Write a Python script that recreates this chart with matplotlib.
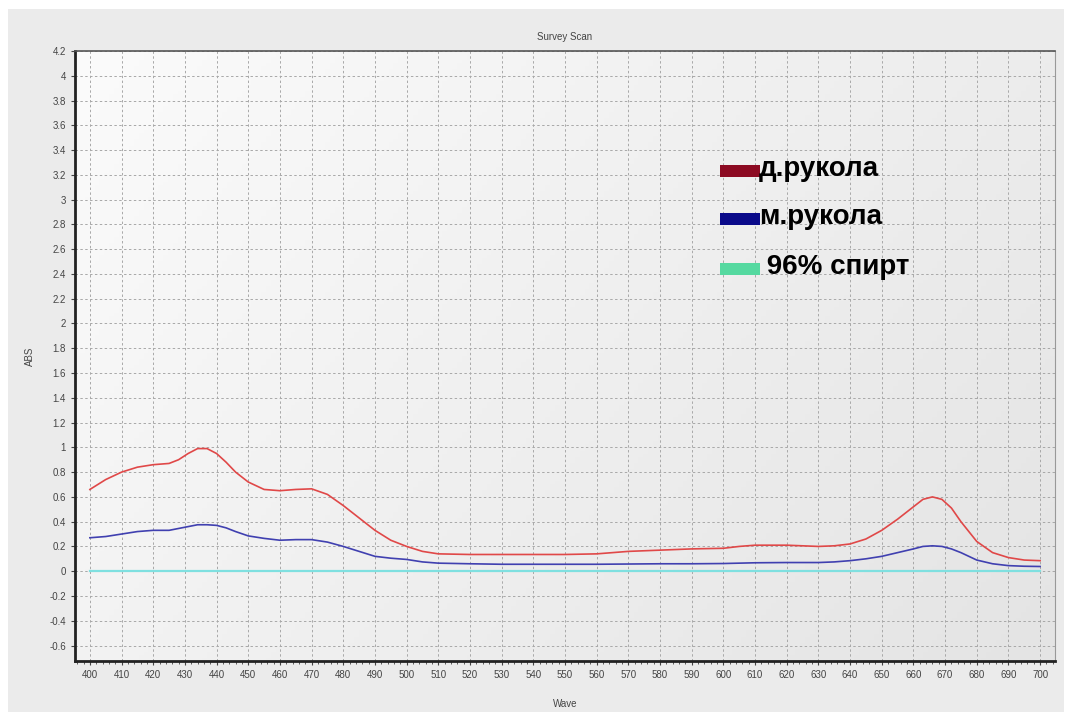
import matplotlib.pyplot as plt
import numpy as np
from matplotlib.patches import Rectangle
from matplotlib.colors import LinearSegmentedColormap
from matplotlib.ticker import MultipleLocator

# wavelengths (nm) and absorbance
wave = [400, 405, 410, 415, 420, 425, 428, 431, 434, 437, 440, 443, 446, 450, 455, 460, 465, 470,
        475, 480, 485, 490, 495, 500, 505, 510, 520, 530, 540, 550, 560, 570, 580,
        590, 600, 605, 610, 620, 630, 635, 640, 645, 650, 655, 660, 663, 666, 669, 672,
        675, 680, 685, 690, 695, 700]

d_rukola = [0.66, 0.74, 0.80, 0.84, 0.86, 0.87, 0.90, 0.95, 0.99, 0.99, 0.95, 0.88, 0.80, 0.72, 0.66, 0.65, 0.66, 0.665,
            0.62, 0.53, 0.43, 0.33, 0.25, 0.20, 0.16, 0.14, 0.135, 0.135, 0.135, 0.135, 0.14, 0.16, 0.17,
            0.18, 0.185, 0.20, 0.21, 0.21, 0.20, 0.205, 0.22, 0.26, 0.33, 0.42, 0.52, 0.58, 0.60, 0.58, 0.51,
            0.40, 0.24, 0.15, 0.11, 0.09, 0.085]

m_rukola = [0.27, 0.28, 0.30, 0.32, 0.33, 0.33, 0.345, 0.36, 0.375, 0.375, 0.37, 0.35, 0.32, 0.285, 0.265, 0.25, 0.255, 0.255,
            0.235, 0.20, 0.16, 0.12, 0.105, 0.095, 0.075, 0.065, 0.06, 0.056, 0.056, 0.056, 0.056, 0.058, 0.06,
            0.06, 0.062, 0.065, 0.068, 0.07, 0.07, 0.075, 0.085, 0.10, 0.12, 0.15, 0.18, 0.20, 0.205, 0.20, 0.18,
            0.15, 0.09, 0.06, 0.045, 0.04, 0.038]

spirt = [0.0] * len(wave)

legend_names = ['д.рукола', 'м.рукола', ' 96% спирт']
legend_colors = ['#8c0a22', '#0a0a8a', '#55d9a0']

plt.rcParams['font.family'] = ['Liberation Sans', 'DejaVu Sans']

fig = plt.figure(figsize=(10.72, 7.15), dpi=100)
fig.patch.set_facecolor('white')
fig.patches.append(Rectangle((8 / 1072, 3 / 715), 1056 / 1072, 703 / 715,
                             transform=fig.transFigure, facecolor='#ebebeb',
                             edgecolor='none', zorder=-5))

ax = fig.add_axes([75 / 1072, 1 - 661 / 715, 980 / 1072, 610 / 715])
ax.set_facecolor('#efefef')

# soft gradient like the original screenshot: light top-left, greyer bottom-right
bg = LinearSegmentedColormap.from_list('bg', ['#fbfbfb', '#e4e4e4'])
gx, gy = np.meshgrid(np.linspace(0, 1, 200), np.linspace(0, 1, 200))
ax.imshow(0.65 * gx + 0.35 * gy, extent=[0, 1, 0, 1], transform=ax.transAxes, cmap=bg,
          vmin=0, vmax=1, aspect='auto', origin='upper', zorder=0)

ax.plot(wave, spirt, color='#7fe0e0', lw=1.6, zorder=3)
ax.plot(wave, m_rukola, color='#4040b0', lw=1.2, zorder=3)
ax.plot(wave, d_rukola, color='#e04848', lw=1.2, zorder=3)

ax.set_xlim(395.3, 704.7)
ax.set_ylim(-0.725, 4.2)
ax.xaxis.set_major_locator(MultipleLocator(10))
ax.xaxis.set_minor_locator(MultipleLocator(2))
yt = np.round(np.arange(-0.6, 4.21, 0.2), 1)
ax.set_yticks(yt)
ax.set_yticklabels([f'{v:g}' for v in yt])

ax.grid(True, which='major', color='#a8a8a8', ls=(0, (2.5, 2.5)), lw=0.7)
ax.tick_params(axis='both', which='major', labelsize=7, colors='#444444', length=3)
ax.tick_params(axis='x', which='minor', length=2, color='#444444')

for side in ['left', 'bottom']:
    ax.spines[side].set_linewidth(2)
    ax.spines[side].set_color('#222222')
ax.spines['top'].set_color('#555555')
ax.spines['top'].set_linewidth(1.2)
ax.spines['right'].set_color('#999999')

ax.set_title('Survey Scan', fontsize=7, color='#444444', pad=8)
ax.set_xlabel('Wave', fontsize=7, color='#444444', labelpad=14)
ax.set_ylabel('ABS', fontsize=7, color='#444444', labelpad=10)

# hand drawn legend block
ys = [171, 219, 269]
for name, col, y in zip(legend_names, legend_colors, ys):
    fig.patches.append(Rectangle((720 / 1072, 1 - (y + 6) / 715), 40 / 1072, 12 / 715,
                                 transform=fig.transFigure, facecolor=col,
                                 edgecolor='none', zorder=5))
    fig.text(759 / 1072, 1 - (y - 2) / 715, name, fontsize=20, fontweight='bold',
             va='center', ha='left', color='black', zorder=6)

plt.savefig('out.png', dpi=100)
